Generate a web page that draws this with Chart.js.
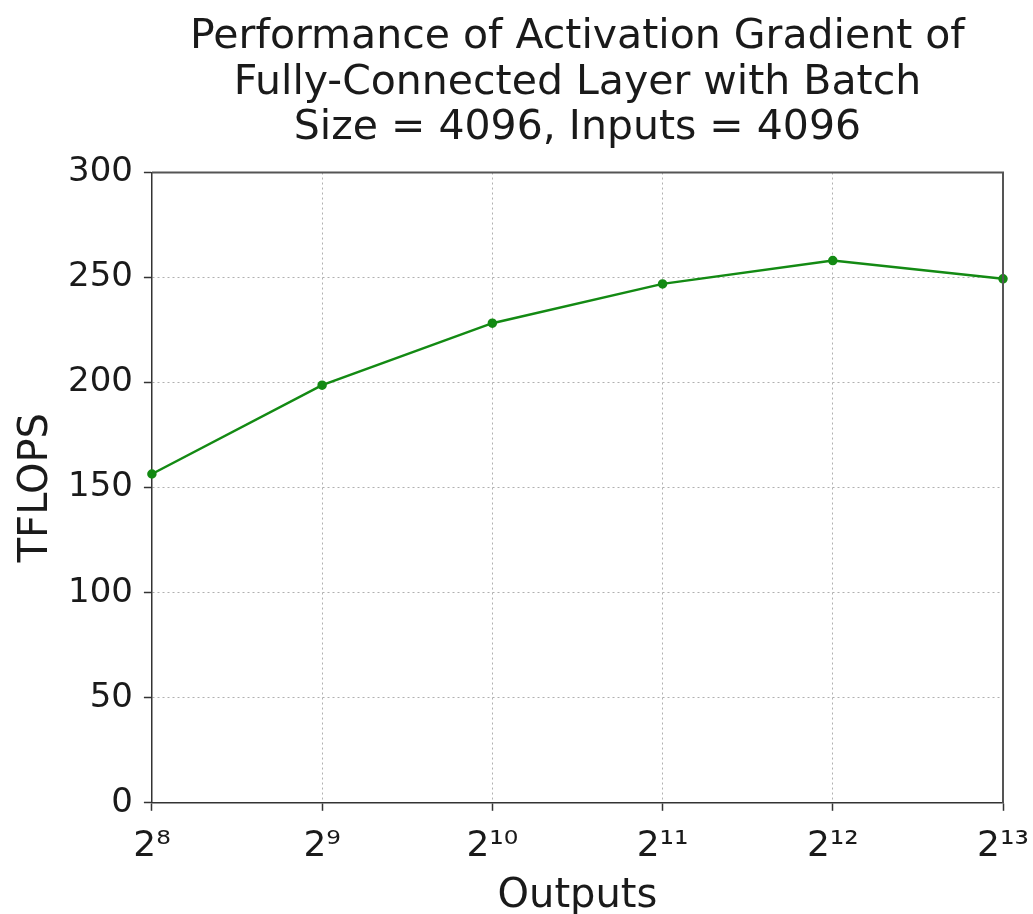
<!DOCTYPE html>
<html>
<head>
<meta charset="utf-8">
<script src="https://cdn.jsdelivr.net/npm/chart.js@4"></script>
<style>
  html, body { margin: 0; padding: 0; background: #fff; }
  #wrap { width: 1033px; height: 914px; }
</style>
</head>
<body>
<div id="wrap"><canvas id="perfChart" width="1033" height="914"></canvas></div>
<script>
// x categories (powers of two) and measured TFLOPS
const outputLabels = ['2⁸', '2⁹', '2¹⁰', '2¹¹', '2¹²', '2¹³'];
const tflops = [156.5, 198.8, 228.3, 247, 258.1, 249.4];
const yTicks = [0, 50, 100, 150, 200, 250, 300];

const FONT = "'DejaVu Sans', sans-serif";

// draws top/right spines like matplotlib
const frame = {
  id: 'frame',
  afterDraw(chart) {
    const { ctx, chartArea: a } = chart;
    ctx.save();
    ctx.strokeStyle = '#555';
    ctx.lineWidth = 2;
    ctx.beginPath();
    ctx.moveTo(a.left, a.top);
    ctx.lineTo(a.right, a.top);
    ctx.lineTo(a.right, a.bottom);
    ctx.stroke();
    ctx.restore();
  }
};

const gridOpts = {
  color: '#b0b0b0',
  lineWidth: 1,
  drawTicks: true,
  tickLength: 8,
  tickColor: '#333',
  tickBorderDash: [],
  tickWidth: 1.5
};

const ctx = document.getElementById('perfChart').getContext('2d');
new Chart(ctx, {
  type: 'line',
  data: {
    labels: outputLabels,
    datasets: [{
      data: tflops,
      borderColor: '#138a13',
      backgroundColor: '#138a13',
      borderWidth: 2.5,
      pointRadius: 3.5,
      pointHoverRadius: 3.5,
      fill: false,
      tension: 0,
      clip: false
    }]
  },
  options: {
    responsive: false,
    animation: false,
    layout: { padding: { top: 15, right: 2, left: 14, bottom: 0 } },
    plugins: {
      legend: { display: false },
      tooltip: { enabled: false },
      title: {
        display: true,
        fullSize: false,
        text: ['Performance of Activation Gradient of', 'Fully-Connected Layer with Batch', 'Size = 4096, Inputs = 4096'],
        color: '#1a1a1a',
        font: { family: FONT, size: 41, weight: 'normal', lineHeight: 1.11 },
        padding: { top: 0, bottom: 21 }
      }
    },
    scales: {
      x: {
        offset: false,
        grid: gridOpts,
        border: { display: true, color: '#333', width: 1.5, dash: [2, 3] },
        ticks: { color: '#1a1a1a', font: { family: FONT, size: 36 }, padding: 14, maxRotation: 0, autoSkip: false },
        title: { display: true, text: 'Outputs', color: '#1a1a1a', font: { family: FONT, size: 40, lineHeight: 0.5 }, padding: { top: 5, bottom: 7 } },
        // the last label may hang past the plot edge, as in matplotlib
        afterFit(scale) { scale.paddingRight = 30; }
      },
      y: {
        min: 0,
        max: 300,
        afterBuildTicks(axis) { axis.ticks = yTicks.map(v => ({ value: v })); },
        grid: gridOpts,
        border: { display: true, color: '#333', width: 1.5, dash: [2, 3] },
        ticks: { color: '#1a1a1a', font: { family: FONT, size: 34 }, padding: 11 },
        title: { display: true, text: 'TFLOPS', color: '#1a1a1a', font: { family: FONT, size: 40, lineHeight: 1.0 }, padding: { top: 3, bottom: 0 } }
      }
    }
  },
  plugins: [frame]
});
</script>
</body>
</html>
